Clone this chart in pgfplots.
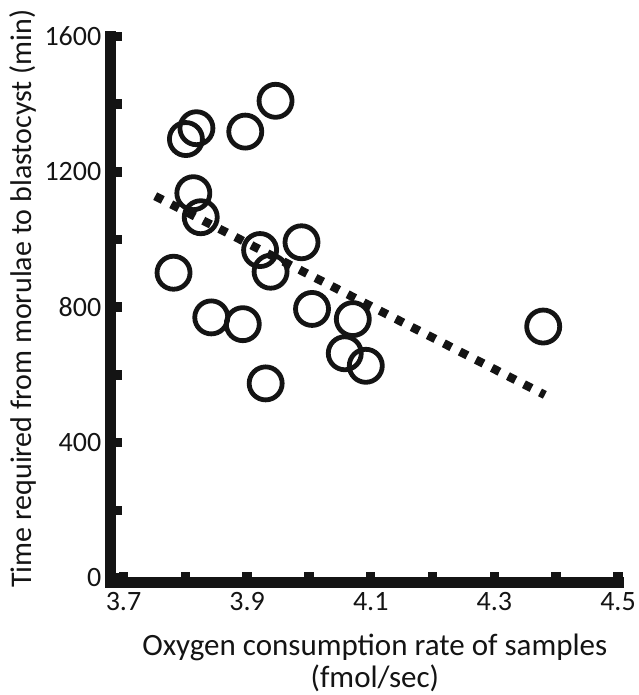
\documentclass[border=0pt]{standalone}
\usepackage{fontspec}
\setmainfont{Carlito}
\usepackage{pgfplots}
\pgfplotsset{compat=1.18}
\definecolor{ink}{RGB}{20,20,20}
\newcommand\tl[1]{\mbox{\fontsize{28}{34}\selectfont #1}}

\begin{document}
\begin{tikzpicture}
\useasboundingbox (0,0) rectangle (638pt,695pt);
\begin{axis}[
    at={(110.5pt,112.5pt)}, anchor=south west,
    scale only axis,
    width=507.5pt, height=546pt,
    xmin=3.679, xmax=4.5,
    ymin=-13.3, ymax=1600,
    axis x line=bottom, axis y line=left,
    axis line style={ink, line width=11pt, line cap=rect, -},
    xtick={3.7,3.8,3.9,4.0,4.1,4.2,4.3,4.4,4.5},
    xticklabels={\tl{3.7},,\tl{3.9},,\tl{4.1},,\tl{4.3},,\tl{4.5}},
    ytick={0,200,400,600,800,1000,1200,1400,1600},
    yticklabels={\tl{0},,\tl{400},,\tl{800},,\tl{1200},,\tl{1600}},
    tick align=inside,
    major tick length=11pt,
    tick style={ink, line width=9.5pt},
    tick label style={text=ink, inner sep=0pt},
    xticklabel style={yshift=-10pt},
    yticklabel style={xshift=-9pt},
    xlabel={Oxygen consumption rate of samples\\[-4pt](fmol/sec)},
    xlabel style={align=center, font=\fontsize{31}{36}\selectfont, text=ink,
        at={(axis description cs:0.521,-0.094)}, anchor=north, inner sep=0pt},
    ylabel={Time required from morulae to blastocyst (min)},
    ylabel style={font=\fontsize{30}{36}\selectfont, text=ink,
        at={(axis description cs:-0.172,0.52)}, anchor=center, inner sep=0pt},
    clip=false
]

% regression line
\addplot[ink, line width=8.5pt, dash pattern=on 8.5pt off 9.5pt] coordinates {
  (3.7513,1128.4) (4.3816,541.0)
};

% samples
\addplot[only marks, mark=o, mark size=16.5pt, mark options={ink, line width=4.8pt}] coordinates {
  (3.818,1329) (3.801,1297) (3.897,1319) (3.946,1410)
  (3.813,1137) (3.825,1066) (3.781,902) (3.842,770)
  (3.893,750) (3.921,969) (3.938,905) (3.988,992)
  (4.005,795) (4.071,765) (4.058,664) (4.092,627)
  (3.930,575) (4.379,743)
};

\end{axis}
\end{tikzpicture}
\end{document}
